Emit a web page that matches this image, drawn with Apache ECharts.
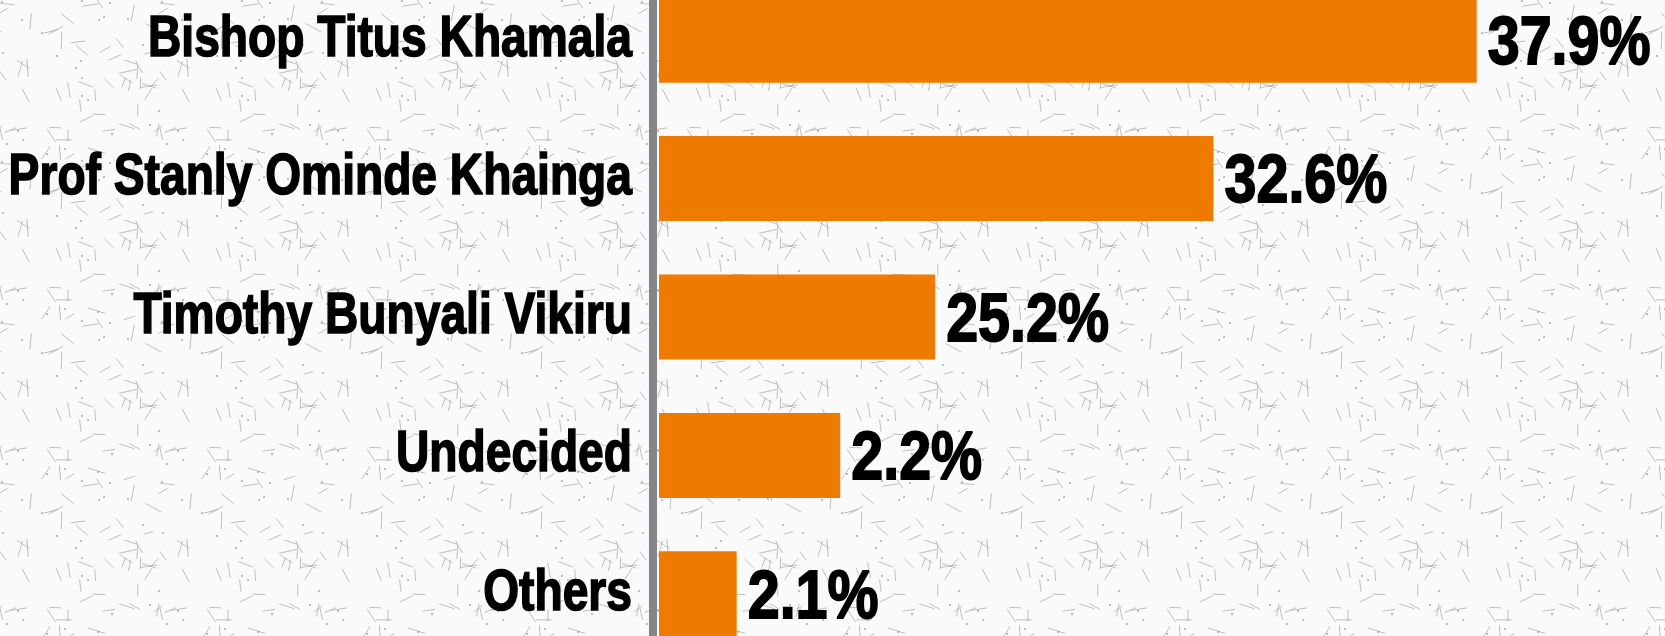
<!DOCTYPE html>
<html>
<head>
<meta charset="utf-8">
<style>
  html, body { margin: 0; padding: 0; }
  #chart { width: 1665px; height: 636px; }
</style>
<script src="https://cdn.jsdelivr.net/npm/echarts@6/dist/echarts.min.js"></script>
</head>
<body>
<div id="chart"></div>
<script>
// candidates, top to bottom
const candidates = ['Bishop Titus Khamala', 'Prof Stanly Ominde Khainga', 'Timothy Bunyali Vikiru', 'Undecided', 'Others']
// printed shares (%)
const shares = [37.9, 32.6, 25.2, 2.2, 2.1]
// bar lengths as the graphic draws them (not to scale with the shares), axis units
const barValues = [37.9, 25.7, 12.8, 8.4, 3.6]

// no narrow face installed, so Liberation Sans Bold gets squeezed horizontally
const FONT = "'Liberation Sans', Arial, sans-serif"

// speckled paper texture for the background
const makeTexture = () => {
  const n = 160
  const c = document.createElement('canvas')
  c.width = n
  c.height = n
  const ctx = c.getContext('2d')
  ctx.fillStyle = '#fafafa'
  ctx.fillRect(0, 0, n, n)
  let s = 11
  const next = () => { s = (s * 16807) % 2147483647; return s / 2147483647 }
  ctx.strokeStyle = 'rgba(165,165,165,0.7)'
  ctx.lineWidth = 1
  for (let i = 0; i < 60; i++) {
    const x = next() * n, y = next() * n
    const a = next() * Math.PI, l = 10 + next() * 8
    for (let dx = -n; dx <= n; dx += n) {
      for (let dy = -n; dy <= n; dy += n) {
        ctx.beginPath()
        ctx.moveTo(x + dx, y + dy)
        ctx.lineTo(x + dx + Math.cos(a) * l, y + dy + Math.sin(a) * l)
        ctx.stroke()
      }
    }
  }
  ctx.fillStyle = 'rgba(150,150,150,0.6)'
  for (let i = 0; i < 25; i++) {
    ctx.fillRect(Math.floor(next() * n), Math.floor(next() * n), 2, 2)
  }
  return c
}

const chart = echarts.init(document.getElementById('chart'))

const labelData = candidates.map((name, i) => [barValues[i], i])

chart.setOption({
  backgroundColor: { image: makeTexture(), repeat: 'repeat' },
  animation: false,
  grid: { left: 659, right: 143, top: -29, bottom: -27, containLabel: false, outerBoundsMode: 'none' },
  xAxis: { type: 'value', min: 0, max: 40, show: false },
  yAxis: {
    type: 'category',
    data: candidates,
    inverse: true,
    offset: 6,
    axisLine: { show: true, onZero: false, lineStyle: { color: '#86868a', width: 8 } },
    axisTick: { show: false },
    splitLine: { show: false },
    axisLabel: { show: false },
  },
  series: [
    {
      type: 'bar',
      data: barValues,
      barWidth: 85,
      itemStyle: { color: '#ee7b00' },
    },
    {
      // names and share labels, placed through the axes
      type: 'custom',
      data: labelData,
      encode: { x: 0, y: 1 },
      z: 5,
      silent: true,
      renderItem: (params, api) => {
        const i = params.dataIndex
        const base = api.coord([0, i])
        const end = api.coord([api.value(0), i])
        return {
          type: 'group',
          children: [
            {
              type: 'text',
              x: base[0] - 27,
              y: base[1],
              scaleX: 0.81,
              style: {
                text: candidates[i], fill: '#000', stroke: '#000', lineWidth: 1.6,
                fontSize: 57, fontWeight: 'bold', fontFamily: FONT,
                align: 'right', verticalAlign: 'middle',
              },
            },
            {
              type: 'text',
              x: end[0] + 11,
              y: end[1] + 5,
              scaleX: 0.845,
              style: {
                text: shares[i].toFixed(1) + '%', fill: '#000', stroke: '#000', lineWidth: 1.8,
                fontSize: 68, fontWeight: 'bold', fontFamily: FONT,
                align: 'left', verticalAlign: 'middle',
              },
            },
          ],
        }
      },
    },
  ],
})
</script>
</body>
</html>
